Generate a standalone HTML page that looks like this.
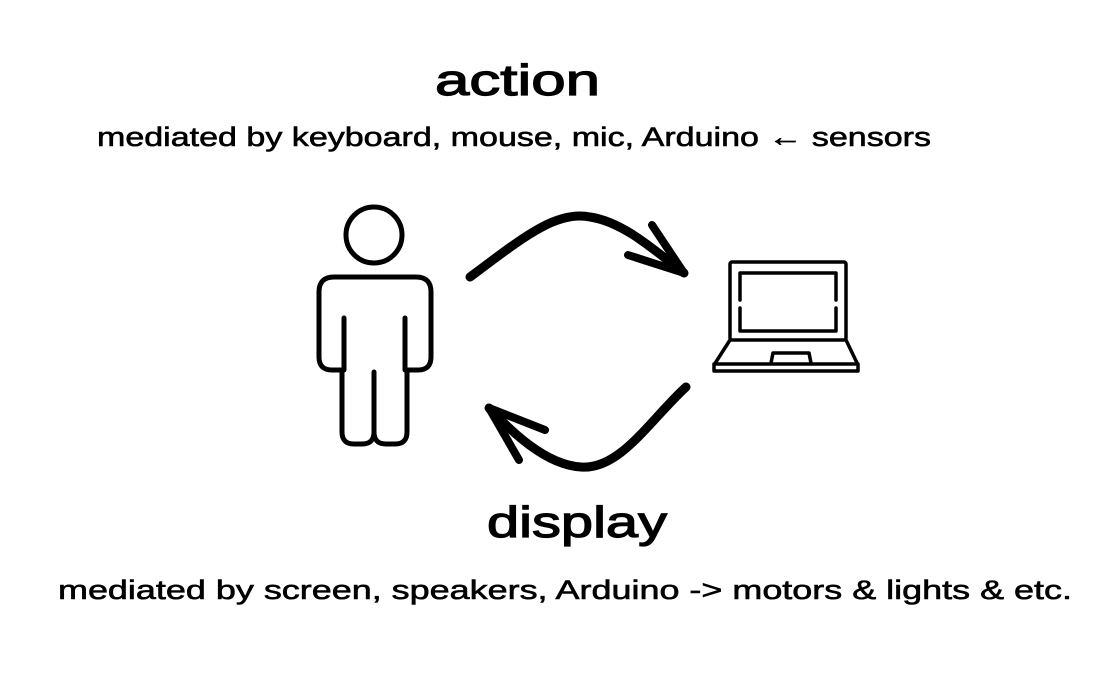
<!DOCTYPE html>
<html><head><style>
html,body{margin:0;padding:0;background:#fff;}
svg{display:block;}
text{font-family:"Liberation Sans","DejaVu Sans",sans-serif;fill:#000;stroke:#000;stroke-width:0.6;}
</style></head><body>
<svg width="1106" height="692" viewBox="0 0 1106 692" xmlns="http://www.w3.org/2000/svg">
<text x="435" y="95" font-size="44" textLength="165" lengthAdjust="spacingAndGlyphs" style="stroke-width:1.2">action</text>
<text x="97" y="146" font-size="27" textLength="834" lengthAdjust="spacingAndGlyphs">mediated by keyboard, mouse, mic, Arduino ← sensors</text>
<text x="487" y="537" font-size="44" textLength="180" lengthAdjust="spacingAndGlyphs" style="stroke-width:1.2">display</text>
<text x="58" y="599" font-size="27" textLength="1014" lengthAdjust="spacingAndGlyphs">mediated by screen, speakers, Arduino -&gt; motors &amp; lights &amp; etc.</text>

<g fill="none" stroke="#000" stroke-width="5" stroke-linecap="round" stroke-linejoin="round">
<circle cx="374" cy="235" r="28"/>
<path d="M342 370 L332 370 Q319 370 319 357 L319 292 Q319 277 334 277 L416 277 Q431 277 431 292 L431 357 Q431 370 418 370 L407 370 L407 432 Q407 444 395 444 L386 444 Q374 444 374 432 Q374 444 362 444 L354 444 Q342 444 342 432 Z"/>
<path d="M344 318 L344 370 M405 318 L405 370 M374 372 L374 436"/>
</g>

<g fill="none" stroke="#000" stroke-linecap="round" stroke-linejoin="round">
<path d="M470 277 C520 240 555 210 590 217 C625 222 660 255 684 273" stroke-width="9"/>
<path d="M652 225 L684 273 L628 255" stroke-width="8"/>
<path d="M686 387 C650 420 620 470 581 467 C545 465 510 430 489 408" stroke-width="9"/>
<path d="M519 460 L489 408 L545 430" stroke-width="8"/>
</g>

<g fill="none" stroke="#000" stroke-width="3.5" stroke-linecap="round" stroke-linejoin="round">
<rect x="730" y="262" width="116" height="78" rx="2"/>
<path d="M740 300 L740 273 L836 273 L836 300 M740 308 L740 331 L836 331 L836 308"/>
<path d="M730 340 L714 365 L714 371 L858 371 L858 365 L846 340"/>
<path d="M714 364 L858 364"/>
<path d="M771 363 L773 353 L809 353 L811 363"/>
</g>
</svg>
</body></html>
